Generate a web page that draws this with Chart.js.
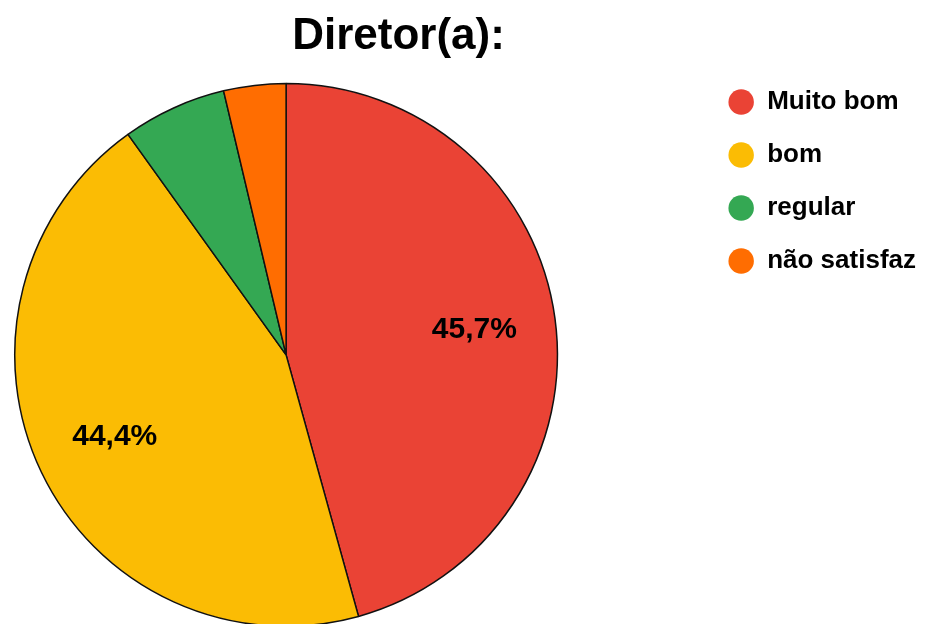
<!DOCTYPE html>
<html>
<head>
<meta charset="utf-8">
<script src="https://cdn.jsdelivr.net/npm/chart.js@4.4.1/dist/chart.umd.min.js"></script>
<style>
    html, body { margin: 0; padding: 0; background: #fff; overflow: hidden; }
    /* canvas runs a little past the left and bottom edges so the pie sits where the original one does */
    #wrap { position: absolute; left: -129px; top: 0; width: 1055px; height: 627px; }
</style>
</head>
<body>
<div id="wrap"><canvas id="pieChart"></canvas></div>
<script>
const categories = ['Muito bom', 'bom', 'regular', 'não satisfaz'];
const percentages = [45.7, 44.4, 6.2, 3.7];
const sliceColors = ['#EA4335', '#FBBC04', '#34A853', '#FF6D01'];
const chartTitle = 'Diretor(a):';
const labelMinPercent = 10; // smaller slices get no label, like the original

const fontFamily = '"Liberation Sans", Arial, sans-serif';

// percentage text inside the big slices
const sliceLabels = {
    id: 'sliceLabels',
    afterDatasetsDraw(chart) {
        const ctx = chart.ctx;
        const meta = chart.getDatasetMeta(0);
        ctx.save();
        ctx.font = `bold 30px ${fontFamily}`;
        ctx.fillStyle = '#000';
        ctx.textAlign = 'center';
        ctx.textBaseline = 'middle';
        meta.data.forEach((arc, i) => {
            if (percentages[i] < labelMinPercent) return;
            const p = arc.getProps(['x', 'y', 'startAngle', 'endAngle', 'outerRadius'], true);
            const mid = (p.startAngle + p.endAngle) / 2;
            const r = p.outerRadius * 0.7;
            const text = percentages[i].toFixed(1).replace('.', ',') + '%';
            ctx.fillText(text, p.x + Math.cos(mid) * r, p.y + Math.sin(mid) * r);
        });
        ctx.restore();
    }
};

const ctx = document.getElementById('pieChart').getContext('2d');
new Chart(ctx, {
    type: 'pie',
    data: {
        labels: categories,
        datasets: [{
            data: percentages,
            backgroundColor: sliceColors,
            borderColor: '#111',
            borderWidth: 1.5
        }]
    },
    options: {
        responsive: true,
        maintainAspectRatio: false,
        animation: false,
        layout: { padding: 0 },
        plugins: {
            title: {
                display: true,
                text: chartTitle,
                color: '#000',
                font: { family: fontFamily, size: 44, weight: 'bold' },
                padding: { top: 10, bottom: 20 }
            },
            legend: {
                position: 'right',
                align: 'start',
                title: {
                    display: true,
                    text: '',
                    font: { size: 10 },
                    padding: { top: 50, bottom: 0 }
                },
                labels: {
                    usePointStyle: true,
                    boxWidth: 26,
                    boxHeight: 18,
                    padding: 27,
                    color: '#000',
                    font: { family: fontFamily, size: 26, weight: 'bold' },
                    generateLabels: (chart) => categories.map((c, i) => ({
                        text: c,
                        fillStyle: sliceColors[i],
                        strokeStyle: sliceColors[i],
                        lineWidth: 0,
                        pointStyle: 'circle',
                        fontColor: '#000',
                        hidden: !chart.getDataVisibility(i),
                        index: i
                    }))
                }
            },
            tooltip: { enabled: false }
        }
    },
    plugins: [sliceLabels]
});
</script>
</body>
</html>
